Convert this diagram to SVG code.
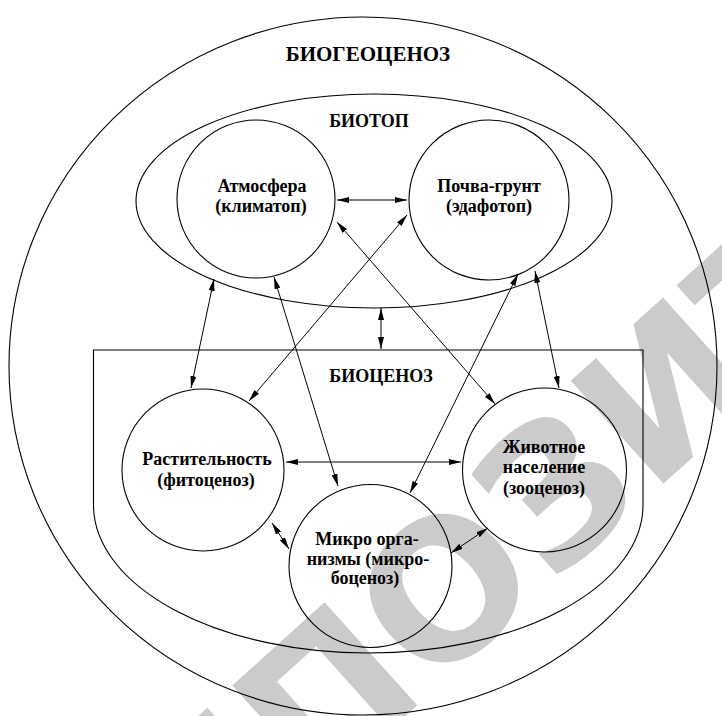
<svg xmlns="http://www.w3.org/2000/svg" width="722" height="716" viewBox="0 0 722 716">
  <style>
    .shape { fill: none; stroke: #000; stroke-width: 1.1; }
    .node { fill: none; stroke: #000; stroke-width: 1.1; }
    .link { fill: none; stroke: #000; stroke-width: 1; marker-start: url(#head); marker-end: url(#head); }
    .label { font-family: "Liberation Serif", "Times New Roman", serif; font-weight: bold; fill: #000; text-anchor: middle; }
    .title { font-size: 21px; }
    .group { font-size: 18px; }
    .txt { font-size: 18px; }
    .mark { font-family: "DejaVu Sans", "Liberation Sans", sans-serif; font-weight: bold; font-size: 190px; fill: #cbcbcb; }
  </style>
  <defs>
    <marker id="head" viewBox="0 0 12 6" refX="12" refY="3" markerWidth="12" markerHeight="6" markerUnits="userSpaceOnUse" orient="auto-start-reverse">
      <path d="M0,0 L12,3 L0,6 z" fill="#000"/>
    </marker>
  </defs>

  <rect width="722" height="716" fill="#fff"/>

  <!-- repository watermark, behind the drawing -->
  <text class="mark" transform="translate(112,980) rotate(-42)">РЕПОЗИТОРИЙ</text>

  <!-- biogeocenosis: outer boundary -->
  <g id="biogeocenosis">
    <ellipse class="shape" cx="363" cy="366" rx="354" ry="349"/>
    <text class="label title" x="368" y="61">БИОГЕОЦЕНОЗ</text>
  </g>

  <!-- biotope: abiotic part -->
  <g id="biotope">
    <ellipse class="shape" cx="374" cy="201" rx="238" ry="107"/>
    <text class="label group" x="369" y="127">БИОТОП</text>
  </g>

  <!-- biocenosis: living part -->
  <g id="biocenosis">
    <path class="shape" d="M93.5,350 H643 V505 A274.75,148 0 0 1 93.5,505 Z"/>
    <text class="label group" x="381" y="382">БИОЦЕНОЗ</text>
  </g>

  <g id="atmosphere">
    <circle class="node" cx="256" cy="199" r="79"/>
    <text class="label txt" x="262" y="192">Атмосфера</text>
    <text class="label txt" x="261" y="212">(климатоп)</text>
  </g>

  <g id="soil">
    <circle class="node" cx="489" cy="200" r="80"/>
    <text class="label txt" x="489" y="192">Почва-грунт</text>
    <text class="label txt" x="489" y="212">(эдафотоп)</text>
  </g>

  <g id="vegetation">
    <circle class="node" cx="203" cy="470" r="81"/>
    <text class="label txt" x="207" y="465">Растительность</text>
    <text class="label txt" x="206" y="486">(фитоценоз)</text>
  </g>

  <g id="animals">
    <circle class="node" cx="544.5" cy="470" r="82"/>
    <text class="label txt" x="544" y="453">Животное</text>
    <text class="label txt" x="544" y="473">население</text>
    <text class="label txt" x="544" y="494">(зооценоз)</text>
  </g>

  <g id="microorganisms">
    <circle class="node" cx="370.5" cy="566" r="81.5"/>
    <text class="label txt" x="367" y="545">Микро орга-</text>
    <text class="label txt" x="368" y="565">низмы (микро-</text>
    <text class="label txt" x="365" y="584">боценоз)</text>
  </g>

  <!-- two-way links between components -->
  <g id="connectors">
    <line class="link" x1="337" y1="200" x2="407" y2="200"/>
    <line class="link" x1="381" y1="308" x2="381" y2="349"/>
    <line class="link" x1="214" y1="279" x2="191" y2="388"/>
    <line class="link" x1="274" y1="277" x2="338" y2="486"/>
    <line class="link" x1="337" y1="222" x2="495" y2="404"/>
    <line class="link" x1="407" y1="215" x2="249" y2="401"/>
    <line class="link" x1="518" y1="274" x2="410" y2="493"/>
    <line class="link" x1="535" y1="271" x2="559" y2="388"/>
    <line class="link" x1="286" y1="462" x2="461" y2="462"/>
    <line class="link" x1="272" y1="523" x2="289" y2="549"/>
    <line class="link" x1="488" y1="528" x2="451" y2="553"/>
  </g>
</svg>
